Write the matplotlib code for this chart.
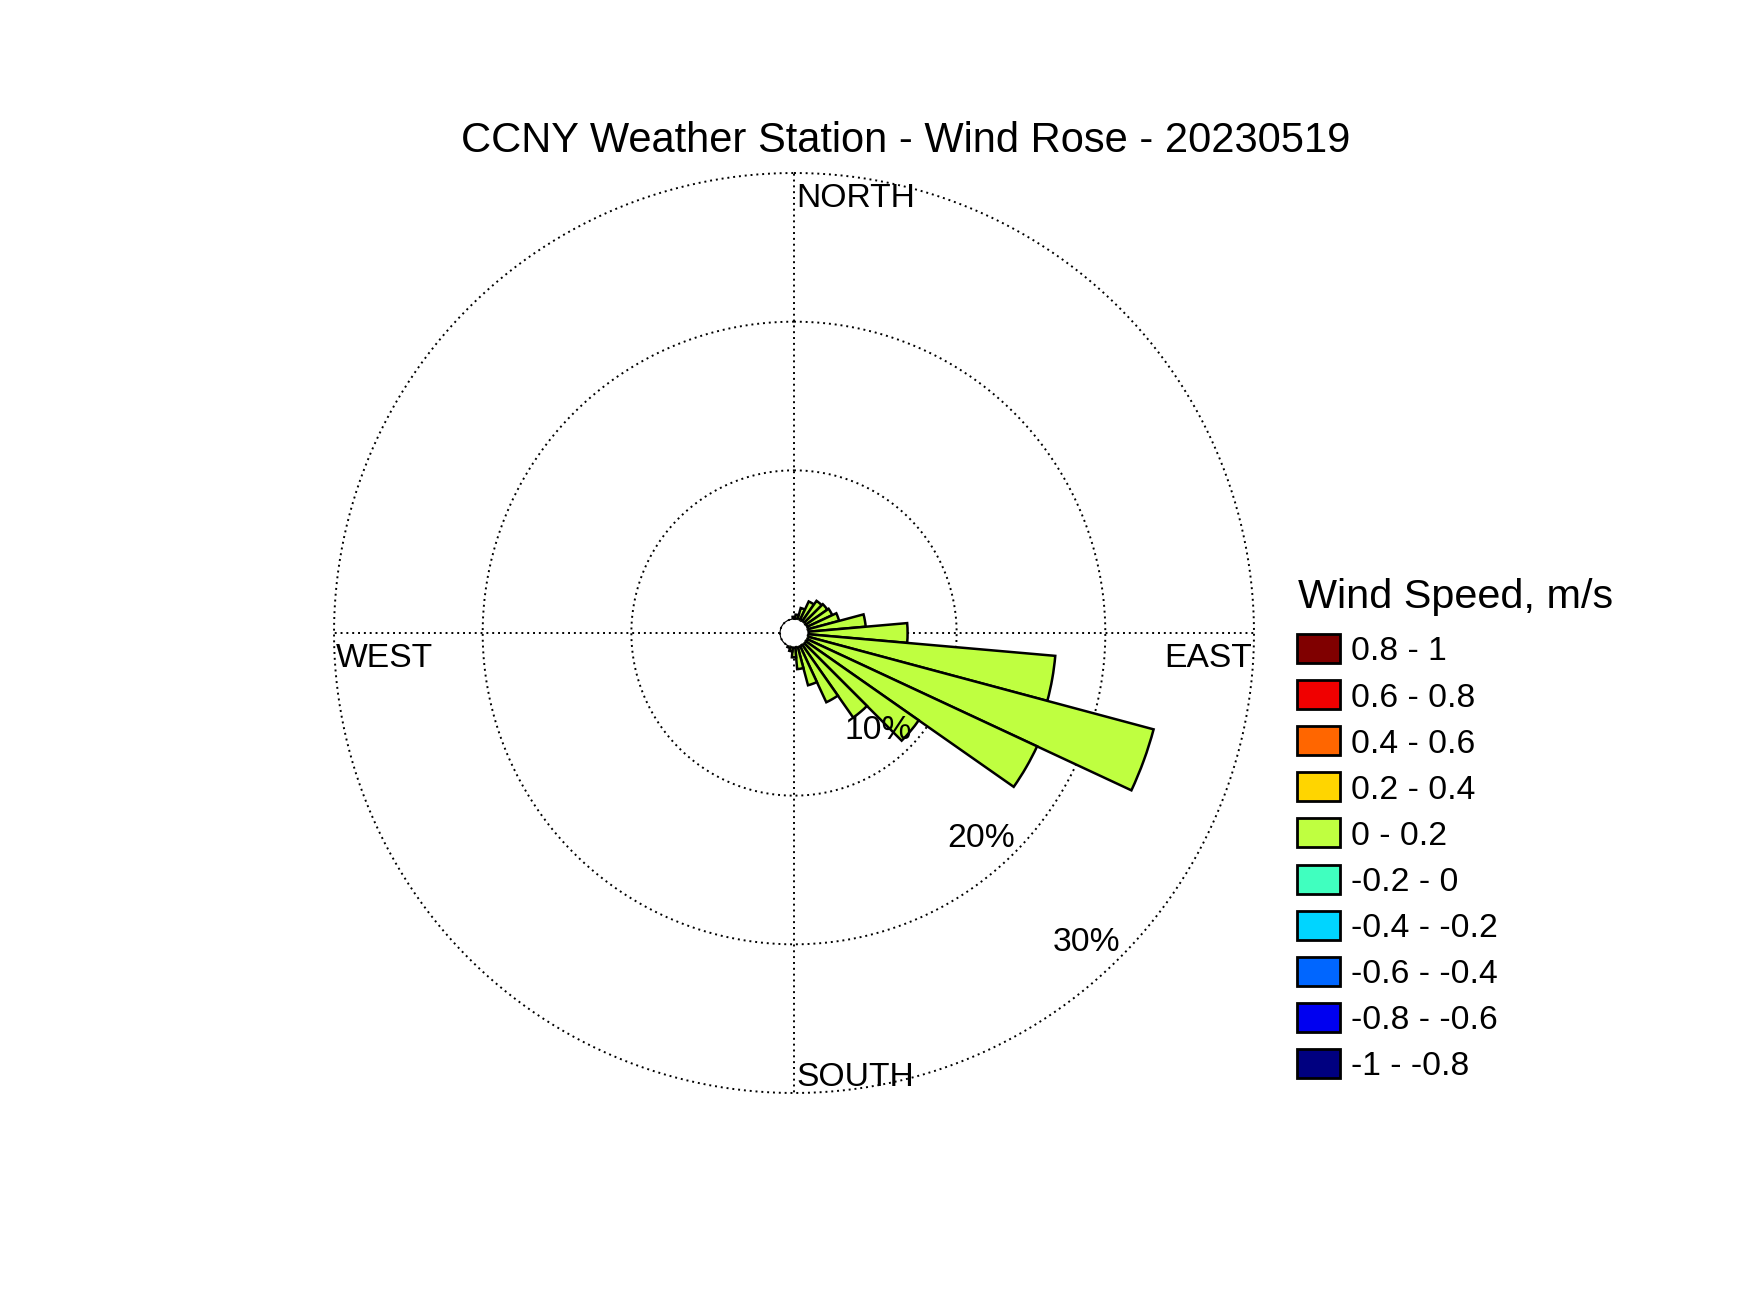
import numpy as np
import matplotlib
matplotlib.use("Agg")
import matplotlib.pyplot as plt
from matplotlib.patches import Rectangle

# ---- data ----
directions = [0, 10, 20, 30, 40, 50, 60, 70, 80, 90, 100, 110, 120, 130, 140, 150,
              160, 170, 180, 190, 200, 210, 220, 230, 240, 250, 260, 270, 280, 290,
              300, 310, 320, 330, 340, 350]
frequency = [0.15, 0.3, 0.8, 1.4, 1.7, 1.8, 1.9, 2.2, 3.9, 6.7, 16.7, 24.1, 17.1, 9.3, 6.0, 4.2,
             2.7, 1.5, 0.7, 0.3, 0.1, 0.0, 0.0, 0.0, 0.0, 0.0, 0.0, 0.0, 0.0, 0.0,
             0.0, 0.0, 0.0, 0.0, 0.0, 0.0]
speed_labels = ["0.8 - 1", "0.6 - 0.8", "0.4 - 0.6", "0.2 - 0.4", "0 - 0.2",
                "-0.2 - 0", "-0.4 - -0.2", "-0.6 - -0.4", "-0.8 - -0.6", "-1 - -0.8"]
speed_colors = ["#800000", "#F00000", "#FF6600", "#FFD500", "#BFFF40",
                "#40FFBF", "#00D5FF", "#0066FF", "#0000F0", "#000080"]
bar_color = "#BFFF40"
rings = [10, 20, 30]
ring_labels = ["10%", "20%", "30%"]
compass = ["NORTH", "EAST", "SOUTH", "WEST"]

plt.rcParams['font.family'] = ['Liberation Sans', 'DejaVu Sans']

W, H = 1750, 1313
fig = plt.figure(figsize=(W / 100, H / 100), dpi=100)

cx, cy, R = 794, 633, 460  # pixel geometry
ax = fig.add_axes([(cx - R) / W, (H - cy - R) / H, 2 * R / W, 2 * R / H], projection='polar')
ax.set_theta_zero_location('N')
ax.set_theta_direction(-1)
hole = 0.94
ax.set_rorigin(-hole)
ax.set_ylim(0, 30)
ax.grid(False)
ax.set_xticks([])
ax.set_yticks([])
ax.spines['polar'].set_visible(False)
ax.patch.set_alpha(0)

dot = (0, (1, 2))
th = np.linspace(0, 2 * np.pi, 721)
for r in [0] + rings:
    ax.plot(th, np.full_like(th, r), color='k', lw=1.4, linestyle=dot, zorder=1, clip_on=False)
for a in [0, 90, 180, 270]:
    ax.plot([np.deg2rad(a)] * 2, [0, 30], color='k', lw=1.4, linestyle=dot, zorder=1, clip_on=False)

d = np.array(directions, dtype=float)
f = np.array(frequency)
m = f > 0
ax.bar(np.deg2rad(d[m]), f[m], width=np.deg2rad(10), bottom=0, color=bar_color,
       edgecolor='k', linewidth=1.8, zorder=3)

fs = 24.2
off = 3.5
lab_ang = [np.deg2rad(139), np.deg2rad(137.5), np.deg2rad(136.5)]
for r, t, a in zip(rings, ring_labels, lab_ang):
    ax.annotate(t, xy=(a, r - 2.6), xytext=(2.5, -4), textcoords='offset pixels',
                fontsize=fs, ha='center', va='center', zorder=5)

def fx(x):
    return x / W
def fy(y):
    return 1 - y / H

fig.text(fx(796), fy(195 + off), compass[0], fontsize=fs, ha='left', va='center')
fig.text(fx(1252), fy(655 + off), compass[1], fontsize=fs, ha='right', va='center')
fig.text(fx(796), fy(1074 + off), compass[2], fontsize=fs, ha='left', va='center')
fig.text(fx(336), fy(655 + off), compass[3], fontsize=fs, ha='left', va='center')

fig.text(fx(906), fy(137 + off), "CCNY Weather Station - Wind Rose - 20230519",
         fontsize=30, ha='center', va='center')

fig.text(fx(1298), fy(593 + off), "Wind Speed, m/s", fontsize=29.8, ha='left', va='center')
row0, dy = 648.5, 46.1
for i, (lab, col) in enumerate(zip(speed_labels, speed_colors)):
    yc = row0 + i * dy
    fig.add_artist(Rectangle((fx(1297), fy(yc + 14.5)), 43 / W, 29 / H,
                             transform=fig.transFigure, facecolor=col,
                             edgecolor='k', linewidth=2))
    fig.text(fx(1351), fy(yc + off), lab, fontsize=fs, ha='left', va='center')

fig.savefig("out.png", dpi=100)
